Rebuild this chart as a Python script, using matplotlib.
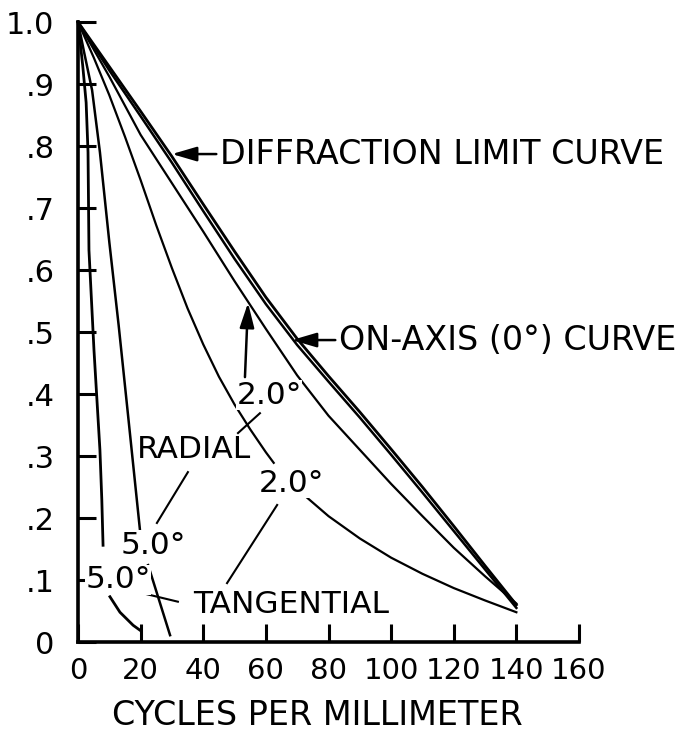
import numpy as np
import matplotlib
matplotlib.use("Agg")
import matplotlib.pyplot as plt

# spatial frequency, cycles per mm
freq = [0, 10, 20, 30, 40, 50, 60, 70, 80, 90, 100, 110, 120, 130, 140]
diffraction = [1.0, 0.928, 0.856, 0.783, 0.706, 0.630, 0.556, 0.489, 0.429, 0.371, 0.311, 0.250, 0.187, 0.123, 0.060]
on_axis = [1.0, 0.922, 0.848, 0.773, 0.695, 0.618, 0.545, 0.479, 0.420, 0.362, 0.302, 0.241, 0.179, 0.117, 0.055]
radial_2 = [1.0, 0.912, 0.818, 0.740, 0.662, 0.582, 0.505, 0.430, 0.365, 0.310, 0.255, 0.203, 0.152, 0.106, 0.062]

tang_2_x = [0, 5, 10, 15, 20, 25, 30, 35, 40, 45, 50, 55, 60, 62.5, np.nan, 71.5, 80, 90, 100, 110, 120, 130, 140]
tang_2_y = [1.0, 0.943, 0.882, 0.815, 0.745, 0.672, 0.603, 0.538, 0.480, 0.428, 0.383, 0.343, 0.306, 0.289, np.nan,
            0.240, 0.203, 0.167, 0.136, 0.110, 0.087, 0.067, 0.048]

radial_5_x = [0, 2, 4.5, 7, 10, 13, 16, 19.8, np.nan, 22.4, 29.4]
radial_5_y = [1.0, 0.95, 0.89, 0.79, 0.645, 0.51, 0.365, 0.18, np.nan, 0.124, 0.011]

tang_5_x = [0, 1.5, 2.6, 3.2, 3.5, 5.1, 7.0, 7.6, 8.0, np.nan, 10.2, 13.4, 17.6, 19.8]
tang_5_y = [1.0, 0.93, 0.87, 0.79, 0.632, 0.471, 0.31, 0.23, 0.156, np.nan, 0.073, 0.048, 0.027, 0.019]

xticks = [0, 20, 40, 60, 80, 100, 120, 140, 160]
yticks = [0, 0.1, 0.2, 0.3, 0.4, 0.5, 0.6, 0.7, 0.8, 0.9, 1.0]
ytick_labels = ["0", ".1", ".2", ".3", ".4", ".5", ".6", ".7", ".8", ".9", "1.0"]

# (text, x, y) label positions
plain_labels = [
    ("2.0°", 61.0, 0.398),
    ("RADIAL", 37.0, 0.310),
    ("2.0°", 68.3, 0.256),
    ("5.0°", 24.0, 0.156),
    ("5.0°", 12.8, 0.100),
    ("TANGENTIAL", 68.0, 0.060),
]
leaders = [
    ((51.1, 58.1), (0.337, 0.369)),
    ((25.2, 35.1), (0.192, 0.274)),
    ((47.6, 63.6), (0.095, 0.221)),
    ((20.4, 31.9), (0.079, 0.065)),
]

fig = plt.figure(figsize=(6.96, 7.33), dpi=100)
ax = fig.add_axes([78 / 696, 91 / 733, 501 / 696, 620 / 733])

ax.plot(freq, diffraction, color="black", lw=2.0, clip_on=False)
ax.plot(freq, on_axis, color="black", lw=1.8, clip_on=False)
ax.plot(freq, radial_2, color="black", lw=1.6, clip_on=False)
ax.plot(tang_2_x, tang_2_y, color="black", lw=1.6, clip_on=False)
ax.plot(radial_5_x, radial_5_y, color="black", lw=1.8, clip_on=False)
ax.plot(tang_5_x, tang_5_y, color="black", lw=2.0, clip_on=False)

for lx, ly in leaders:
    ax.plot(lx, ly, color="black", lw=1.5)

ax.set_xlim(0, 160)
ax.set_ylim(0, 1.0)
ax.set_xticks(xticks)
ax.set_xticklabels([str(t) for t in xticks])
ax.set_yticks(yticks)
ax.set_yticklabels(ytick_labels)
for side in ["top", "right"]:
    ax.spines[side].set_visible(False)
for side in ["left", "bottom"]:
    ax.spines[side].set_linewidth(2.6)
ax.tick_params(axis="both", direction="in", length=13, width=2.2)
ax.tick_params(axis="x", pad=11, labelsize=21)
ax.tick_params(axis="y", pad=17, labelsize=22)

ax.set_xlabel("CYCLES PER MILLIMETER", fontsize=24, va="center")
ax.xaxis.set_label_coords(0.478, -0.118)

arrow = dict(arrowstyle="-|>,head_length=0.75,head_width=0.22", lw=1.8, color="black",
             shrinkA=1, shrinkB=0, mutation_scale=20)
ax.annotate("DIFFRACTION LIMIT CURVE", xy=(30.0, 0.787), xytext=(45.5, 0.787),
            ha="left", va="center", fontsize=24, arrowprops=arrow)
ax.annotate("ON-AXIS (0°) CURVE", xy=(68.3, 0.487), xytext=(83.5, 0.487),
            ha="left", va="center", fontsize=24, arrowprops=arrow)
ax.annotate("", xy=(54.3, 0.547), xytext=(53.3, 0.425), arrowprops=arrow)

for txt, tx, ty in plain_labels:
    ax.text(tx, ty, txt, ha="center", va="center", fontsize=22.5, zorder=5,
            bbox=dict(facecolor="white", edgecolor="none", pad=0.5))

fig.savefig("out.png", dpi=100)
